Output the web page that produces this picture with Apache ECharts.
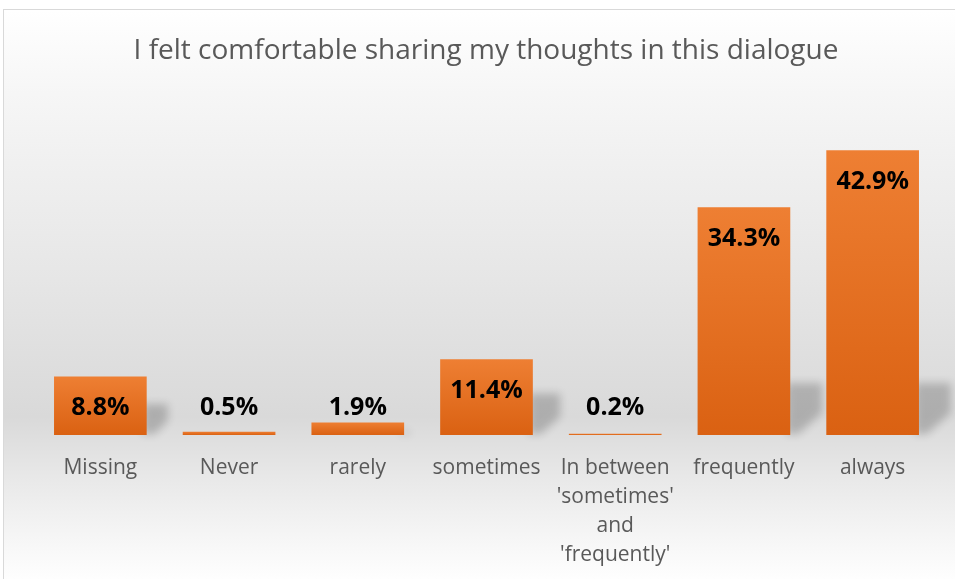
<!DOCTYPE html>
<html>
<head>
<meta charset="utf-8">
<script src="https://cdn.jsdelivr.net/npm/echarts@6/dist/echarts.min.js"></script>
<style>
	html, body{
		margin:0;
		padding:0;
		width:955px;
		height:579px;
		overflow:hidden;
		background:#fff;
	}
	#chart{
		position:absolute;
		left:3px;
		top:9px;
		width:966px;
		height:600px;
		border:1px solid #d9d9d9;
		box-sizing:border-box;
		background:linear-gradient(to bottom, #ffffff 0%, #f6f6f6 14%, #e6e6e6 45%, #d9d9d9 68%, #e8e8e8 78%, #f8f8f8 90%, #ffffff 96%);
	}
</style>
</head>
<body>
<div id="chart"></div>
<script>
// data
var categories = ["Missing", "Never", "rarely", "sometimes", "In between\n'sometimes'\nand\n'frequently'", "frequently", "always"];
var percents = [8.8, 0.5, 1.9, 11.4, 0.2, 34.3, 42.9];

var chart = echarts.init(document.getElementById('chart'));

// tall bars get the label inside the top, short ones sit above at a fixed height
var barData = percents.map(function (v) {
	var lbl = v >= 8
		? { position: 'insideTop', distance: 19 }
		: { position: 'insideBottom', distance: 15 };
	return { value: v, label: lbl };
});

// soft perspective shadow behind the lower right of each bar
// the shape is pushed off to the left and only its blurred shadow is shifted back
var OFF = 1500;
function renderShadow(params, api) {
	var base = api.coord([api.value(0), 0]);
	var top = api.coord([api.value(0), api.value(1)]);
	var bw = api.size([1, 0])[0] * 0.72;
	var x = base[0] + bw / 2 - OFF;
	var y = base[1];
	var h = Math.min((y - top[1]) * 0.6, 56);
	if (h < 6) return null;
	var w = Math.min(h * 0.6, 32);
	return {
		type: 'polygon',
		shape: {
			points: [[x - 4, y - h + 4], [x + w, y - h + 4], [x + w, y - h * 0.4], [x + 8, y - 1], [x - 4, y - 1]]
		},
		style: {
			fill: '#000',
			shadowColor: 'rgba(0,0,0,0.2)',
			shadowBlur: 9,
			shadowOffsetX: OFF
		}
	};
}

chart.setOption({
	animation: false,
	title: {
		text: 'I felt comfortable sharing my thoughts in this dialogue',
		left: 'center',
		top: 27,
		padding: 0,
		textStyle: {
			fontFamily: 'Open Sans',
			fontWeight: 'normal',
			fontSize: 28,
			color: '#595959'
		}
	},
	grid: {
		left: 32,
		right: 31,
		top: 93,
		bottom: 173,
		containLabel: false
	},
	xAxis: {
		type: 'category',
		data: categories,
		axisLine: { show: false },
		axisTick: { show: false },
		axisLabel: {
			interval: 0,
			margin: 19,
			fontFamily: 'Open Sans',
			fontSize: 21,
			lineHeight: 29,
			color: '#595959'
		}
	},
	yAxis: {
		type: 'value',
		min: 0,
		max: 50,
		show: false,
		splitLine: { show: false }
	},
	series: [{
		type: 'custom',
		renderItem: renderShadow,
		data: percents.map(function (v, i) { return [i, v]; }),
		silent: true,
		clip: false,
		z: 1
	}, {
		type: 'bar',
		data: barData,
		barCategoryGap: '28%',
		z: 2,
		itemStyle: {
			color: new echarts.graphic.LinearGradient(0, 0, 0, 1, [
				{ offset: 0, color: '#ee7f33' },
				{ offset: 1, color: '#da6112' }
			])
		},
		label: {
			show: true,
			formatter: '{c}%',
			fontFamily: 'Open Sans',
			fontWeight: 'bold',
			fontSize: 25,
			color: '#000'
		}
	}]
});
</script>
</body>
</html>
